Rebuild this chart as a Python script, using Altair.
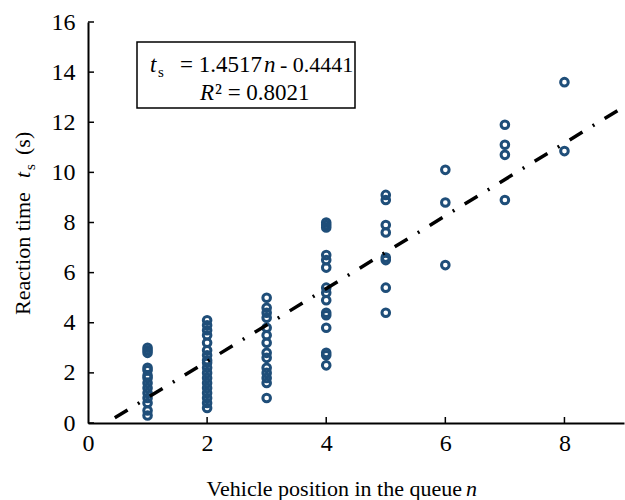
import altair as alt
import pandas as pd

# ---- data ----
n1 = [3.0, 2.9, 2.8, 2.2, 2.1, 1.9, 1.8, 1.6, 1.4, 1.2, 1.0, 0.8, 0.5, 0.3]
n2 = [4.1, 3.9, 3.7, 3.5, 3.2, 2.9, 2.7, 2.5, 2.4, 2.2, 2.0, 1.8, 1.6, 1.4, 1.2, 1.0, 0.8, 0.6]
n3 = [5.0, 4.6, 4.4, 4.2, 3.8, 3.5, 3.2, 2.8, 2.6, 2.2, 2.0, 1.8, 1.6, 1.0]
n4 = [8.0, 7.9, 7.8, 6.7, 6.5, 6.2, 5.4, 5.2, 4.9, 4.4, 4.3, 3.8, 2.8, 2.7, 2.3]
n5 = [9.1, 8.9, 7.9, 7.6, 6.6, 6.5, 5.4, 4.4]
n6 = [10.1, 8.8, 6.3]
n7 = [11.9, 11.1, 10.7, 8.9]
n8 = [13.6, 10.85]

fit_n = [0.45, 9.0]
fit_t = [0.21, 12.62]

y_ticks = [0, 2, 4, 6, 8, 10, 12, 14, 16]
x_ticks = [0, 2, 4, 6, 8]

rows = []
for pos, vals in zip(range(1, 9), [n1, n2, n3, n4, n5, n6, n7, n8]):
    for v in vals:
        rows.append({"n": pos, "t": v})
pts = pd.DataFrame(rows)
fit = pd.DataFrame({"n": fit_n, "t": fit_t})

W, H = 536, 401
L, T = 88, 22
FONT = "Liberation Serif"
BLUE = "#1f4e79"

xs = alt.Scale(domain=[0, 9], nice=False)
ys = alt.Scale(domain=[0, 16], nice=False)

points = alt.Chart(pts).mark_point(
    shape="circle", filled=False, size=58, strokeWidth=3, color=BLUE, opacity=1
).encode(
    x=alt.X("n:Q", scale=xs,
            axis=alt.Axis(values=x_ticks, format="d", ticks=False, grid=False, title=None,
                          labelFont=FONT, labelFontSize=24, labelColor="black",
                          labelFlush=False, labelOverlap=False,
                          labelPadding=8, domainColor="black", domainWidth=2)),
    y=alt.Y("t:Q", scale=ys,
            axis=alt.Axis(values=y_ticks, format="d", ticks=False, grid=False, title=None,
                          labelFont=FONT, labelFontSize=24, labelColor="black",
                          labelFlush=False, labelOverlap=False,
                          labelPadding=13, domainColor="black", domainWidth=2)),
)

line = alt.Chart(fit).mark_line(
    color="black", strokeWidth=3.5, strokeDash=[15, 12, 2, 12], clip=True
).encode(x=alt.X("n:Q", scale=xs), y=alt.Y("t:Q", scale=ys))

ytick_df = pd.DataFrame({"t": y_ticks})
ytk = alt.Chart(ytick_df).mark_rule(color="black", strokeWidth=1.5).encode(
    y=alt.Y("t:Q", scale=ys), x=alt.value(0), x2=alt.value(6))
xtick_df = pd.DataFrame({"n": x_ticks[1:]})
xtk = alt.Chart(xtick_df).mark_rule(color="black", strokeWidth=1.5).encode(
    x=alt.X("n:Q", scale=xs), y=alt.value(H), y2=alt.value(H - 6))

box = alt.Chart(pd.DataFrame({"a": [0]})).mark_rect(
    fill="white", stroke="black", strokeWidth=1.5
).encode(x=alt.value(137 - L), x2=alt.value(355 - L),
         y=alt.value(42 - T), y2=alt.value(108 - T))


def txt(s, x, y, size=22, style="normal", align="left", angle=0):
    return alt.Chart(pd.DataFrame({"s": [s]})).mark_text(
        font=FONT, fontSize=size, fontStyle=style, align=align,
        baseline="alphabetic", angle=angle, color="black"
    ).encode(text="s:N", x=alt.value(x - L), y=alt.value(y - T))


texts = [
    txt("t", 150, 72, size=23, style="italic"),
    txt("s", 158, 77, size=15),
    txt("= 1.4517", 180, 72, size=23),
    txt("n", 264, 72, size=23, style="italic"),
    txt("- 0.4441", 280, 72, size=22),
    txt("R", 200, 100, size=23, style="italic"),
    txt("² = 0.8021", 215, 100, size=23),
    txt("Vehicle position in the queue", 462, 496, align="right"),
    txt("n", 466, 496, style="italic"),
    txt("Reaction time", 30, 315, angle=270),
    txt("t", 30, 178, style="italic", angle=270),
    txt("s", 35, 170, size=15, angle=270),
    txt("(s)", 30, 155, angle=270),
]

chart = alt.layer(points, line, ytk, xtk, box, *texts).properties(
    width=W, height=H,
    autosize=alt.AutoSizeParams(type="none"),
    padding={"left": L, "top": T, "right": 1, "bottom": 500 - T - H},
    background="white",
).configure_view(stroke=None).configure_axis(labelFont=FONT)

chart.save("out.html", embed_options={"renderer": "svg", "actions": False})
